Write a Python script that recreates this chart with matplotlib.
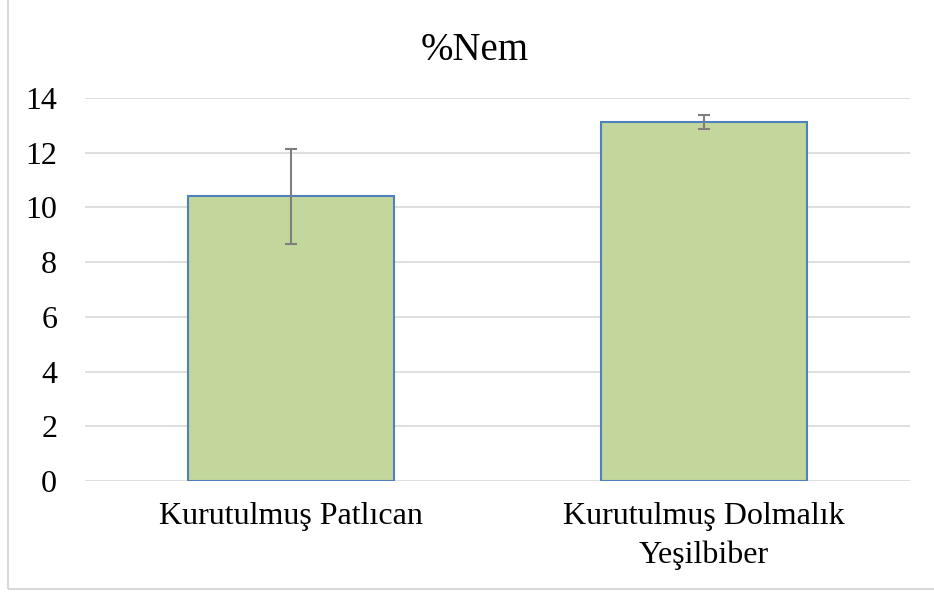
import matplotlib
matplotlib.use('agg')
import matplotlib.pyplot as plt
from matplotlib.patches import Rectangle

categories = ['Kurutulmuş Patlıcan', 'Kurutulmuş Dolmalık\nYeşilbiber']
values = [10.4, 13.13]
errors = [1.72, 0.25]
yticks = [0, 2, 4, 6, 8, 10, 12, 14]

plt.rcParams['font.family'] = ['Liberation Serif', 'DejaVu Serif']

fig = plt.figure(figsize=(9.34, 5.94), dpi=100)
ax = fig.add_axes([85/934, 1 - 481/594, 825/934, (481 - 98)/594])

x = list(range(len(categories)))
ax.bar(x, values, width=0.5, color='#C3D69B', edgecolor='#4F81BD', linewidth=1.5, zorder=3)
ax.errorbar(x, values, yerr=errors, fmt='none', ecolor='#7F7F7F', elinewidth=1.5,
            capsize=4.5, capthick=1.5, zorder=4)

ax.set_xlim(-0.5, 1.5)
ax.set_ylim(0, 14)
ax.set_yticks(yticks)
ax.set_xticks(x)
ax.set_xticklabels(categories, fontsize=23, linespacing=1.45)
ax.tick_params(axis='y', labelsize=23, length=0, pad=20)
ax.tick_params(axis='x', length=0, pad=15)
ax.grid(axis='y', color='#D9D9D9', linewidth=1.2, zorder=0)
for s in ax.spines.values():
    s.set_visible(False)

fig.text(475/934, 1 - 50/594, '%Nem', fontsize=28, ha='center', va='center')

# outer chart frame (left and bottom edges visible)
fig.add_artist(Rectangle((8/934, 1 - 589/594), 1.5, 1.5, transform=fig.transFigure,
                         fill=False, edgecolor='#D9D9D9', linewidth=1.5))

fig.savefig('out.png', dpi=100)
